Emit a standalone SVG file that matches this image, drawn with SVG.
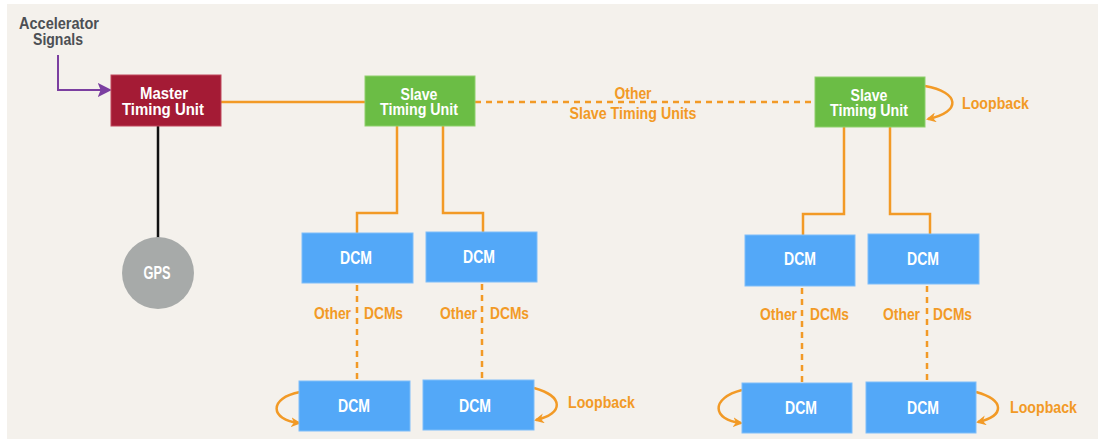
<svg xmlns="http://www.w3.org/2000/svg" width="1100" height="441" viewBox="0 0 1100 441">
<defs>
<style>
.t{font-family:"Liberation Sans",Arial,sans-serif;font-weight:bold;font-size:17px;text-anchor:middle;dominant-baseline:central}
.b{font-size:18px}
.w{fill:#ffffff}
.o{fill:#f29a26}
.g{fill:#4c4f54}
.s{text-anchor:start}
.e{text-anchor:end}
.ln{stroke:#f29a26;stroke-width:2.5;fill:none}
.dl{stroke:#f29a26;stroke-width:2.5;fill:none;stroke-dasharray:6 5}
.dcm{fill:#53a8f8;stroke:#7fbef9;stroke-width:1}
.stu{fill:#6bbd45;stroke:#8fd06d;stroke-width:1}
</style>
<marker id="ao" viewBox="0 0 10 10" refX="8" refY="5" markerWidth="4" markerHeight="4" orient="auto" markerUnits="strokeWidth"><path d="M0,0 L10,5 L0,10 L3,5 z" fill="#f29a26"/></marker>
<marker id="ap" viewBox="0 0 10 10" refX="8" refY="5" markerWidth="7" markerHeight="7" orient="auto" markerUnits="strokeWidth"><path d="M0,0 L10,5 L0,10 L2,5 z" fill="#7b3fa0"/></marker>
</defs>
<rect x="0" y="0" width="1100" height="441" fill="#ffffff"/>
<rect x="7" y="4" width="1091" height="435" fill="#f4f1ec"/>

<g id="connectors">
<path d="M58,55 V90 H109" stroke="#7b3fa0" stroke-width="2" fill="none" marker-end="url(#ap)"/>
<line x1="158" y1="126" x2="158" y2="238" stroke="#111" stroke-width="2.5"/>
<line x1="221" y1="102" x2="365" y2="102" class="ln"/>
<line x1="475" y1="102" x2="815" y2="102" class="dl"/>
<path d="M397,126 V213 H357 V233" class="ln"/>
<path d="M443,126 V213 H483 V232" class="ln"/>
<path d="M844,127 V214 H803 V235" class="ln"/>
<path d="M890,127 V214 H930 V234" class="ln"/>
<line x1="357" y1="285" x2="357" y2="380" class="dl"/>
<line x1="482" y1="284" x2="482" y2="379" class="dl"/>
<line x1="802" y1="288" x2="802" y2="383" class="dl"/>
<line x1="927" y1="286" x2="927" y2="382" class="dl"/>
<path d="M925,86 C960,92 962,112 928,119" class="ln" marker-end="url(#ao)"/>
<path d="M300,392 C268,398 270,420 299,423" class="ln" marker-end="url(#ao)"/>
<path d="M534,388 C564,396 564,414 536,420" class="ln" marker-end="url(#ao)"/>
<path d="M742,390 C710,398 712,420 741,423" class="ln" marker-end="url(#ao)"/>
<path d="M976,392 C1005,400 1005,416 978,422" class="ln" marker-end="url(#ao)"/>
</g>

<g id="labels">
<text class="t g" x="59" y="23" textLength="80" lengthAdjust="spacingAndGlyphs">Accelerator</text>
<text class="t g" x="58" y="39" textLength="50" lengthAdjust="spacingAndGlyphs">Signals</text>
<text class="t o" x="633" y="93" textLength="37" lengthAdjust="spacingAndGlyphs">Other</text>
<text class="t o" x="633" y="113" textLength="127" lengthAdjust="spacingAndGlyphs">Slave Timing Units</text>
<text class="t o s" x="962" y="103" textLength="67" lengthAdjust="spacingAndGlyphs">Loopback</text>
<text class="t o s" x="568" y="402" textLength="67" lengthAdjust="spacingAndGlyphs">Loopback</text>
<text class="t o s" x="1010" y="407" textLength="67" lengthAdjust="spacingAndGlyphs">Loopback</text>
<text class="t o e" x="351" y="313" textLength="37" lengthAdjust="spacingAndGlyphs">Other</text>
<text class="t o s" x="364" y="313" textLength="39" lengthAdjust="spacingAndGlyphs">DCMs</text>
<text class="t o e" x="477" y="313" textLength="37" lengthAdjust="spacingAndGlyphs">Other</text>
<text class="t o s" x="490" y="313" textLength="39" lengthAdjust="spacingAndGlyphs">DCMs</text>
<text class="t o e" x="797" y="314" textLength="37" lengthAdjust="spacingAndGlyphs">Other</text>
<text class="t o s" x="810" y="314" textLength="39" lengthAdjust="spacingAndGlyphs">DCMs</text>
<text class="t o e" x="920" y="314" textLength="37" lengthAdjust="spacingAndGlyphs">Other</text>
<text class="t o s" x="933" y="314" textLength="39" lengthAdjust="spacingAndGlyphs">DCMs</text>
</g>

<g id="master">
<rect x="111" y="75" width="110" height="51" fill="#a41b35" stroke="#c0485c" stroke-width="1"/>
<text class="t w" x="164" y="93" textLength="48" lengthAdjust="spacingAndGlyphs">Master</text>
<text class="t w" x="163" y="109" textLength="82" lengthAdjust="spacingAndGlyphs">Timing Unit</text>
</g>
<g id="gps">
<circle cx="158" cy="273" r="36" fill="#a7aaa9"/>
<text class="t w b" x="157" y="273" textLength="27" lengthAdjust="spacingAndGlyphs">GPS</text>
</g>
<g id="slave1">
<rect x="365" y="76" width="110" height="50" class="stu"/>
<text class="t w" x="419" y="94" textLength="37" lengthAdjust="spacingAndGlyphs">Slave</text>
<text class="t w" x="419" y="109" textLength="78" lengthAdjust="spacingAndGlyphs">Timing Unit</text>
</g>
<g id="slave2">
<rect x="815" y="77" width="110" height="50" class="stu"/>
<text class="t w" x="869" y="95" textLength="37" lengthAdjust="spacingAndGlyphs">Slave</text>
<text class="t w" x="869" y="110" textLength="78" lengthAdjust="spacingAndGlyphs">Timing Unit</text>
</g>
<g id="dcm1"><rect x="302" y="233" width="111" height="50" class="dcm"/><text class="t w b" x="356" y="258" textLength="32" lengthAdjust="spacingAndGlyphs">DCM</text></g>
<g id="dcm2"><rect x="426" y="232" width="111" height="50" class="dcm"/><text class="t w b" x="479" y="257" textLength="32" lengthAdjust="spacingAndGlyphs">DCM</text></g>
<g id="dcm3"><rect x="299" y="381" width="111" height="50" class="dcm"/><text class="t w b" x="354" y="406" textLength="32" lengthAdjust="spacingAndGlyphs">DCM</text></g>
<g id="dcm4"><rect x="423" y="380" width="111" height="50" class="dcm"/><text class="t w b" x="475" y="406" textLength="32" lengthAdjust="spacingAndGlyphs">DCM</text></g>
<g id="dcm5"><rect x="745" y="235" width="110" height="51" class="dcm"/><text class="t w b" x="800" y="259" textLength="32" lengthAdjust="spacingAndGlyphs">DCM</text></g>
<g id="dcm6"><rect x="868" y="234" width="111" height="50" class="dcm"/><text class="t w b" x="923" y="259" textLength="32" lengthAdjust="spacingAndGlyphs">DCM</text></g>
<g id="dcm7"><rect x="742" y="383" width="110" height="50" class="dcm"/><text class="t w b" x="801" y="408" textLength="32" lengthAdjust="spacingAndGlyphs">DCM</text></g>
<g id="dcm8"><rect x="866" y="382" width="110" height="51" class="dcm"/><text class="t w b" x="923" y="408" textLength="32" lengthAdjust="spacingAndGlyphs">DCM</text></g>
</svg>
